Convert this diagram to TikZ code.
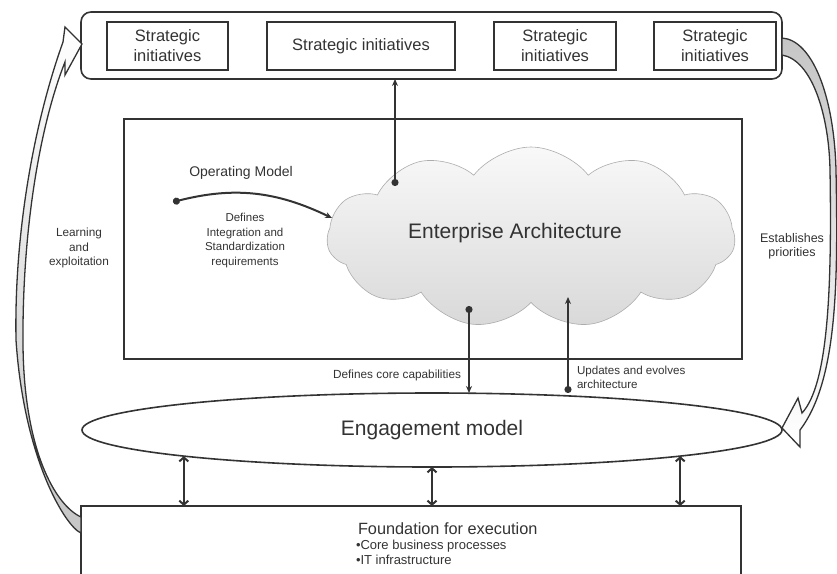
\documentclass[tikz,border=0pt]{standalone}
\usepackage{fontspec}
\setmainfont{Liberation Sans}
\usepackage{xcolor}
\usepackage{tikz}
\usetikzlibrary{calc,arrows.meta,positioning,shapes.geometric,shapes.symbols}
\definecolor{ink}{HTML}{333333}
\definecolor{txt}{HTML}{333333}
\tikzset{
	every node/.style={draw=none,rectangle,text=txt,outer sep=0pt,inner sep=2pt,align=center},
	frame/.style={draw=ink,line width=1.6pt},
	initbox/.style={frame,minimum height=48,font=\fontsize{16.5}{20}\selectfont},
	bigtext/.style={font=\fontsize{21}{25}\selectfont},
	note/.style={font=\fontsize{11.8}{14.5}\selectfont},
	dotline/.style={draw=ink,line width=2pt,arrows={Circle[length=7pt]-Stealth[length=7pt,width=6pt]}},
	bidir/.style={draw=ink,line width=2pt,arrows={Straight Barb[length=4pt,width=9pt]-Straight Barb[length=4pt,width=9pt]}},
	bigarrow/.style={draw=ink,line width=1.3pt,line join=miter}
	}

\begin{document}
\begin{tikzpicture}[x=1pt,y=-1pt]
	\useasboundingbox (0,0) rectangle (837,573);
	\clip (0,0) rectangle (837,573);

	\node[frame,rounded corners=10pt,minimum width=701,minimum height=67] (strat) at (431.5,45.5) {};
	\node[initbox,minimum width=121] (si1) at (167.5,46) {Strategic\\initiatives};
	\node[initbox,minimum width=188,right=39pt of si1] (si2) {Strategic initiatives};
	\node[initbox,minimum width=122,right=39pt of si2] (si3) {Strategic\\initiatives};
	\node[initbox,minimum width=122,right=38pt of si3] (si4) {Strategic\\initiatives};

	\node[frame,minimum width=618,minimum height=240] (opframe) at (433,239) {};
	\node[cloud,cloud puffs=11,cloud puff arc=105,cloud ignores aspect,minimum width=408,minimum height=181,
		draw=gray!65,line width=0.6pt,top color=gray!5,bottom color=gray!30] (ea) at (531,237.5) {};
	\node[bigtext] (eatext) at (515,233) {Enterprise Architecture};

	\node[ellipse,frame,minimum width=700,minimum height=74,inner sep=0pt,bigtext] (eng) at (432,430) {Engagement model};
	\node[frame,line width=1.4pt,minimum width=660,minimum height=100] (found) at (411,556) {};
	\node[anchor=north west,align=left,font=\fontsize{13}{15}\selectfont] (foundtext) at (356,521)
		{{\fontsize{16.3}{18}\selectfont Foundation for execution}\\$\!$•Core business processes\\$\!$•IT infrastructure};

	\node[font=\fontsize{14}{16}\selectfont] (oplabel) at (241,173) {Operating Model};
	\node[note,font=\fontsize{11.5}{14.5}\selectfont] (opdesc) at (245,240.5) {Defines\\Integration and\\Standardization\\requirements};
	\node[note] (learn) at (79,248) {Learning\\and\\exploitation};
	\node[note,font=\fontsize{12.5}{14}\selectfont] (estab) at (792,246) {Establishes\\priorities};
	\node[note,anchor=east] (corecap) at (463,375) {Defines core capabilities};
	\node[note,anchor=west,align=left,font=\fontsize{11.6}{14}\selectfont] (evolve) at (575,377) {Updates and evolves\\architecture};

	\coordinate (eadot1) at (395,186);
	\coordinate (eadot2) at (469,306);
	\coordinate (eaup) at (568,297);
	\coordinate (opstart) at (173,202);
	\coordinate (opend) at (332,218);

	\draw[dotline] (eadot1) -- (eadot1 |- strat.south);
	\draw[dotline] (opstart) to[bend left=20] (opend);
	\draw[dotline] (eadot2) -- (eadot2 |- eng.north);
	\draw[dotline] (eaup |- eng.north) -- (eaup);

	\draw[bidir] (eng.186) -- (eng.186 |- found.north);
	\draw[bidir] (eng.south) -- (found.north -| eng.south);
	\draw[bidir] (eng.-6) -- (eng.-6 |- found.north);

	\draw[bigarrow,top color=white,middle color=white,bottom color=gray!45]
		(81,533) .. controls (66,527) and (24,460) .. (16,340) .. controls (14,230) and (35,120) .. (63,42)
		-- (65,27) -- (82,44) -- (65,75) -- (65,62)
		.. controls (40,125) and (22,230) .. (23,345) .. controls (24,450) and (55,505) .. (81,517) -- cycle;
	\draw[bigarrow,top color=gray!45,middle color=white,bottom color=white]
		(782,38) .. controls (812,40) and (834,95) .. (836,170) .. controls (838,280) and (838,380) .. (800,430)
		-- (800,447) -- (782,428) -- (798,398) -- (802,413)
		.. controls (828,385) and (832,290) .. (830,170) .. controls (829,115) and (812,60) .. (782,55) -- cycle;
\end{tikzpicture}
\end{document}
